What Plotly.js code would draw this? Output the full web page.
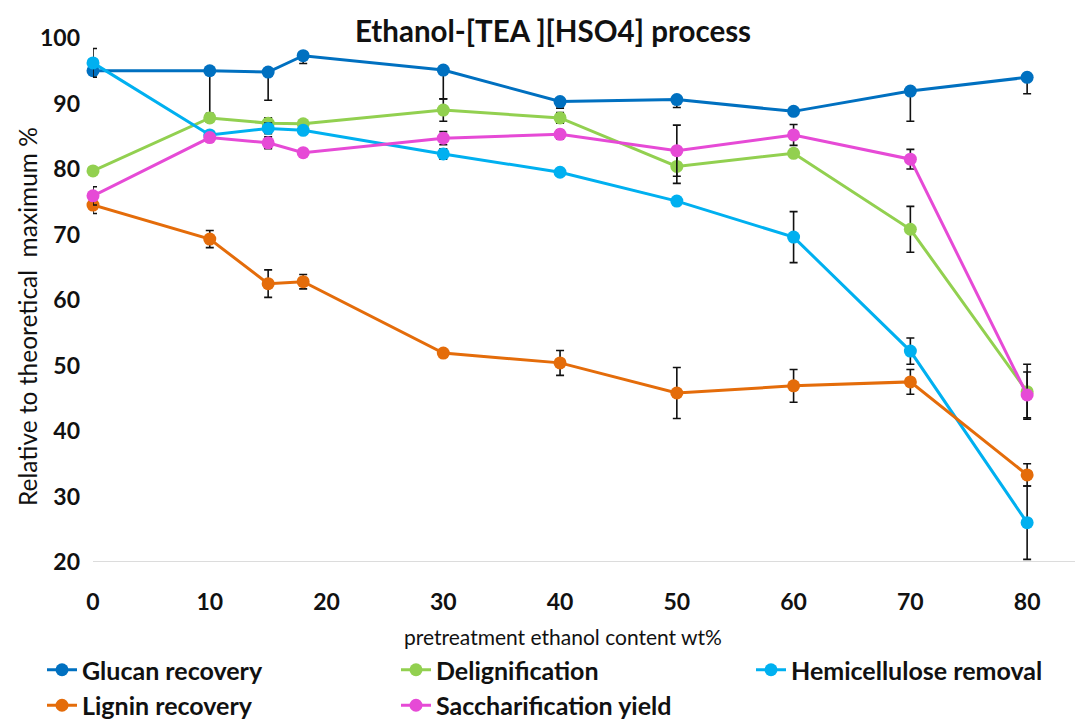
<!DOCTYPE html>
<html>
<head>
<meta charset="utf-8">
<script src="https://cdn.plot.ly/plotly-3.0.1.min.js"></script>
<style>
  html, body { margin: 0; padding: 0; background: #fff; }
  #chart { width: 1075px; height: 722px; }
</style>
</head>
<body>
<div id="chart"></div>
<script>
// Ethanol content of the pretreatment liquor (wt%)
var ethanol = [0, 10, 15, 18, 30, 40, 50, 60, 70, 80];

// Responses, % of theoretical maximum
var glucanRecovery   = [95.0, 95.0, 94.8, 97.3, 95.1, 90.3, 90.6, 88.8, 91.9, 94.0];
var delignification  = [79.7, 87.8, 87.0, 86.9, 89.0, 87.8, 80.4, 82.4, 70.8, 46.0];
var hemiRemoval      = [96.2, 85.2, 86.2, 85.9, 82.3, 79.5, 75.1, 69.6, 52.2, 26.0];
var ligninRecovery   = [74.5, 69.3, 62.5, 62.8, 51.9, 50.4, 45.8, 46.9, 47.5, 33.3];
var saccharification = [75.9, 84.8, 84.0, 82.5, 84.7, 85.3, 82.8, 85.2, 81.5, 45.5];

// Standard deviations (glucan shown as lower bars only)
var glucanErrMinus  = [1.0, 6.5, 4.3, 1.2, 4.4, 1.0, 1.2, 0.5, 4.6, 2.5];
var delignErr       = [0.5, 0.6, 0.8, 0.5, 1.7, 0.8, 2.6, 0.6, 3.5, 4.2];
var hemiErr         = [2.2, 0.5, 0.8, 0.6, 0.8, 0.4, 0.4, 3.9, 2.0, 5.6];
var ligninErr       = [1.3, 1.3, 2.1, 1.1, 0.4, 1.9, 3.9, 2.5, 1.9, 1.7];
var sacchErr        = [1.4, 0.5, 0.9, 0.4, 1.0, 0.7, 3.9, 1.6, 1.5, 3.5];

var xTicks = [0, 10, 20, 30, 40, 50, 60, 70, 80];
var yTicks = [20, 30, 40, 50, 60, 70, 80, 90, 100];

var zeros = ethanol.map(function () { return 0; });

function series(name, y, color, err, legendId) {
  return {
    type: 'scatter',
    mode: 'lines+markers',
    name: name,
    legend: legendId,
    x: ethanol,
    y: y,
    cliponaxis: false,
    line: { color: color, width: 3 },
    marker: { color: color, size: 13 },
    error_y: Object.assign({
      type: 'data',
      visible: true,
      color: '#111111',
      thickness: 1.6,
      width: 4
    }, err)
  };
}

var traces = [
  series('Glucan recovery', glucanRecovery, '#0070C0',
         { symmetric: false, array: zeros, arrayminus: glucanErrMinus }, 'legend'),
  series('Delignification', delignification, '#92D050',
         { array: delignErr }, 'legend2'),
  series('Hemicellulose removal', hemiRemoval, '#00B0F0',
         { array: hemiErr }, 'legend3'),
  series('Lignin recovery', ligninRecovery, '#E46C0A',
         { array: ligninErr }, 'legend'),
  series('Saccharification yield', saccharification, '#E64AD6',
         { array: sacchErr }, 'legend2')
];

var font = 'Lato, "Open Sans", sans-serif';
var ink = '#111111';

// plot area in pixels
var L = 93, T = 38, W = 982, H = 524;
function px(x) { return (x - L) / W; }
function py(y) { return (T + H - y) / H; }

function legendAt(xPix) {
  return {
    orientation: 'v',
    xref: 'paper', yref: 'paper',
    x: px(xPix), xanchor: 'left',
    y: py(647), yanchor: 'top',
    itemwidth: 30,
    tracegroupgap: 0,
    font: { family: font, size: 25, color: ink, weight: 'bold' },
    bgcolor: 'rgba(0,0,0,0)'
  };
}

var layout = {
  width: 1075,
  height: 722,
  paper_bgcolor: '#ffffff',
  plot_bgcolor: '#ffffff',
  margin: { l: L, r: 1075 - L - W, t: T, b: 722 - T - H, autoexpand: false },
  font: { family: font, color: ink },
  showlegend: true,
  title: {
    text: '<b>Ethanol-[TEA ][HSO4] process</b>',
    font: { family: font, size: 29.5, color: ink },
    xref: 'container', x: 553 / 1075, xanchor: 'center',
    yref: 'container', y: 1 - 32 / 722, yanchor: 'middle'
  },
  xaxis: {
    range: [0, 84.1],
    tickvals: xTicks,
    ticktext: xTicks.map(String),
    showgrid: false,
    zeroline: false,
    showline: false,
    ticks: '',
    ticklabelstandoff: 24,
    tickfont: { family: font, size: 23, color: ink, weight: 'bold' },
    fixedrange: true
  },
  yaxis: {
    range: [20, 100],
    tickvals: yTicks,
    ticktext: yTicks.map(String),
    showgrid: false,
    zeroline: false,
    showline: false,
    ticks: '',
    ticklabelstandoff: 12,
    tickfont: { family: font, size: 23, color: ink, weight: 'bold' },
    fixedrange: true
  },
  shapes: [
    // baseline of the value axis at y = 20
    { type: 'line', xref: 'paper', yref: 'y', x0: 0, x1: 1, y0: 20, y1: 20,
      line: { color: '#d0d0d0', width: 1.5 }, layer: 'below' }
  ],
  annotations: [
    { text: 'pretreatment ethanol content wt%', xref: 'paper', yref: 'paper',
      x: px(563), y: py(636), xanchor: 'center', yanchor: 'middle',
      showarrow: false, font: { family: font, size: 21, color: ink } },
    { text: 'Relative to theoretical&nbsp; maximum %', xref: 'paper', yref: 'paper',
      x: px(27), y: py(317), xanchor: 'center', yanchor: 'middle', textangle: -90,
      showarrow: false, font: { family: font, size: 24.5, color: ink } }
  ],
  legend: legendAt(42),
  legend2: legendAt(396),
  legend3: legendAt(751)
};

Plotly.newPlot('chart', traces, layout, { displayModeBar: false, staticPlot: true });
</script>
</body>
</html>
